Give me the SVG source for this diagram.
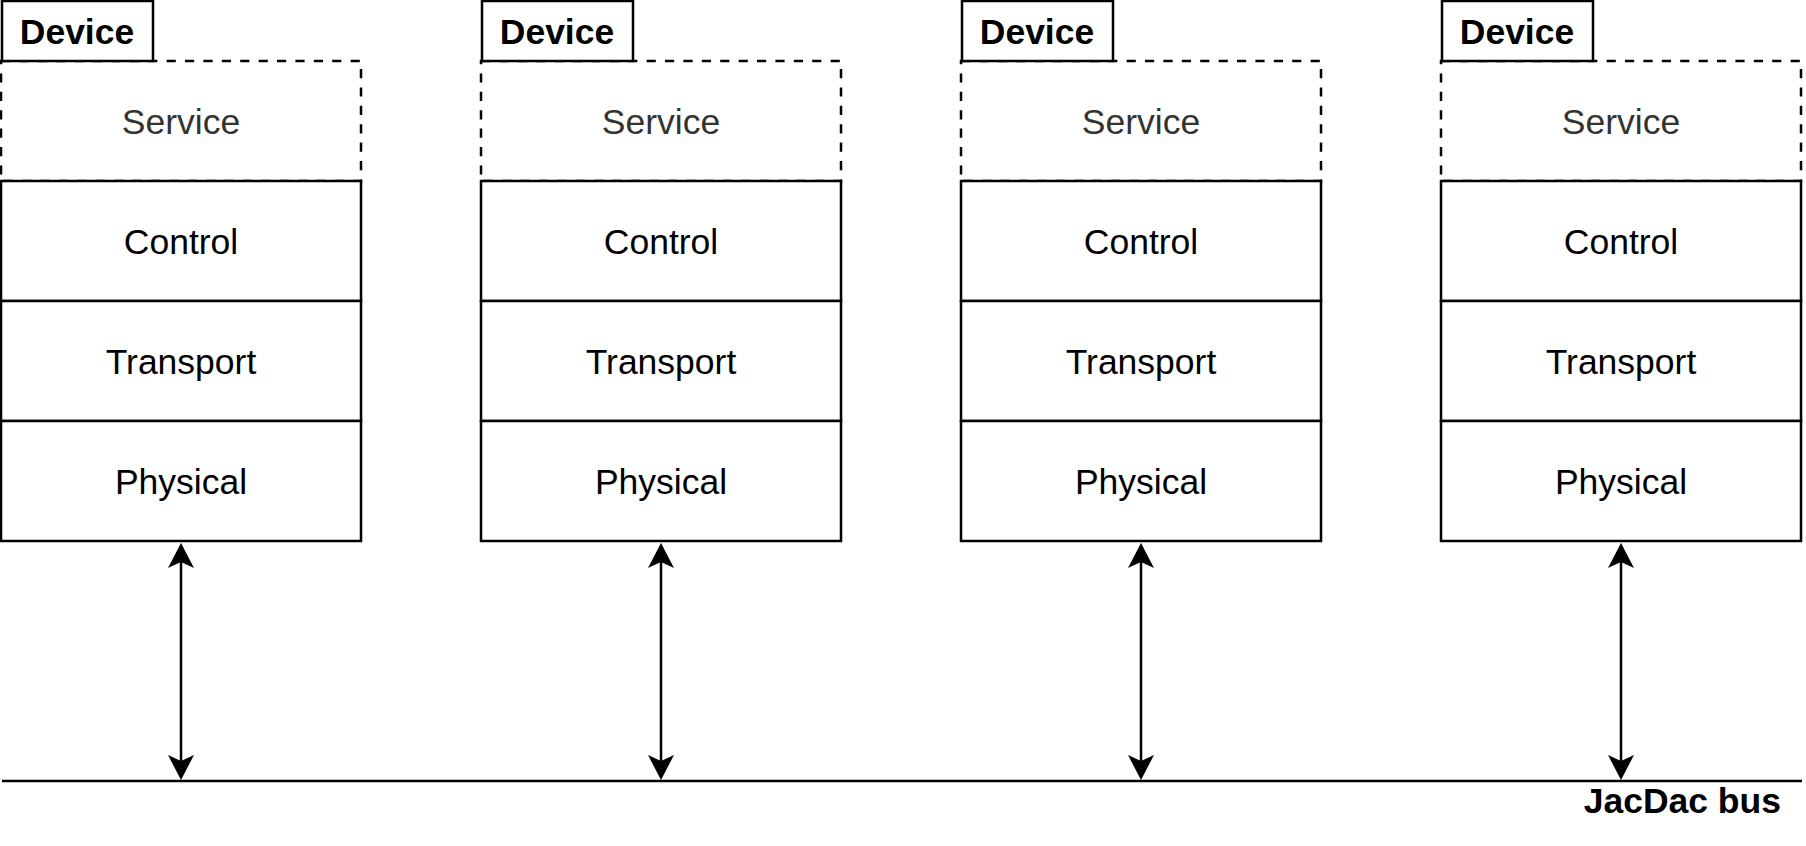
<svg xmlns="http://www.w3.org/2000/svg" width="1806" height="846" viewBox="0 0 1806 846">
<style>
.bg{fill:#ffffff}
.box{fill:#ffffff;stroke:#000000;stroke-width:2.5}
.dash{fill:#ffffff;stroke:#000000;stroke-width:2.5;stroke-dasharray:9.2 9.2}
.t{font-family:"Liberation Sans",Arial,Helvetica,sans-serif;font-size:35.5px;text-anchor:middle;fill:#000000}
.svc{fill:#333333}
.b{font-weight:bold}
.ln{stroke:#000000;stroke-width:2.5;fill:none}
</style>
<defs>
<marker id="arr" markerUnits="userSpaceOnUse" viewBox="0 -14 26 28" markerWidth="26" markerHeight="28" refX="6" refY="0" orient="auto-start-reverse">
<path d="M0,-13 L25,0 L0,13 L6,0 Z" fill="#000000"/>
</marker>
<g id="stack">
<rect class="dash" x="0" y="61" width="360" height="120"/>
<rect class="box" x="0" y="181" width="360" height="120"/>
<rect class="box" x="0" y="301" width="360" height="120"/>
<rect class="box" x="0" y="421" width="360" height="120"/>
<rect class="box" x="1" y="1" width="151" height="60"/>
<text class="t b" x="76" y="44">Device</text>
<text class="t svc" x="180" y="133.5">Service</text>
<text class="t" x="180" y="253.5">Control</text>
<text class="t" x="180" y="373.5">Transport</text>
<text class="t" x="180" y="493.5">Physical</text>
</g>
</defs>
<rect class="bg" x="0" y="0" width="1806" height="846"/>
<g id="device1"><use href="#stack" x="1" y="0"/></g>
<g id="device2"><use href="#stack" x="481" y="0"/></g>
<g id="device3"><use href="#stack" x="961" y="0"/></g>
<g id="device4"><use href="#stack" x="1441" y="0"/></g>
<g id="bus">
<line class="ln" x1="2" y1="781" x2="1802" y2="781"/>
<text class="t b" x="1781" y="813" style="text-anchor:end">JacDac bus</text>
</g>
<g id="connectors">
<line class="ln" x1="181" y1="562" x2="181" y2="761" marker-start="url(#arr)" marker-end="url(#arr)"/>
<line class="ln" x1="661" y1="562" x2="661" y2="761" marker-start="url(#arr)" marker-end="url(#arr)"/>
<line class="ln" x1="1141" y1="562" x2="1141" y2="761" marker-start="url(#arr)" marker-end="url(#arr)"/>
<line class="ln" x1="1621" y1="562" x2="1621" y2="761" marker-start="url(#arr)" marker-end="url(#arr)"/>
</g>
</svg>
